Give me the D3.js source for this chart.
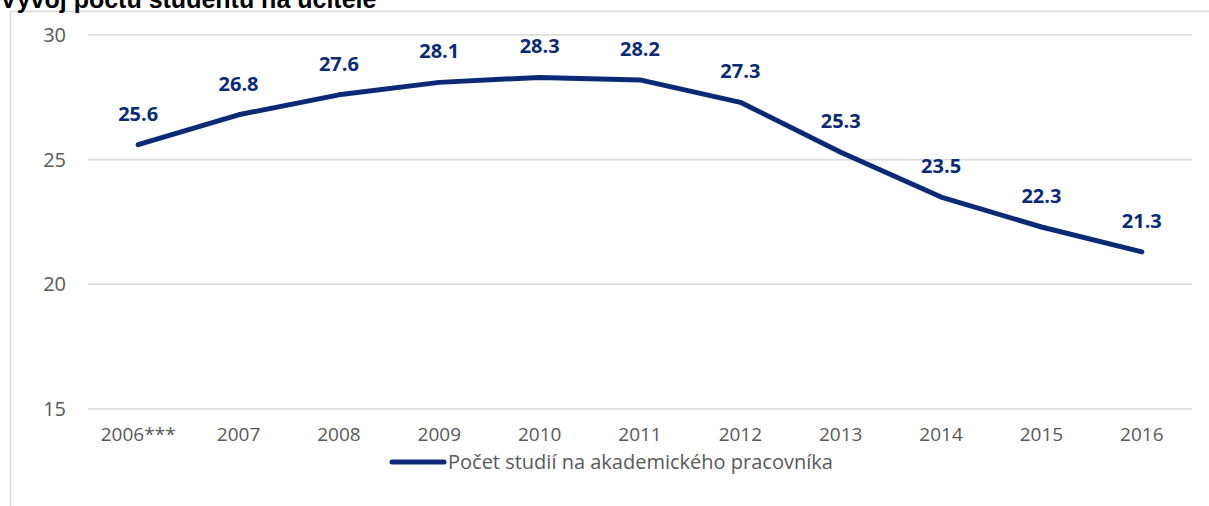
<!DOCTYPE html>
<html>
<head>
<meta charset="utf-8">
<script src="https://cdn.jsdelivr.net/npm/d3@7"></script>
<style>
  body { margin: 0; background: #fff; }
</style>
</head>
<body>
<script>
var years = ["2006***", "2007", "2008", "2009", "2010", "2011", "2012", "2013", "2014", "2015", "2016"];
var values = [25.6, 26.8, 27.6, 28.1, 28.3, 28.2, 27.3, 25.3, 23.5, 22.3, 21.3];
var yTicks = [15, 20, 25, 30];
var seriesName = "Počet studií na akademického pracovníka";
var title = "Vývoj počtu studentů na učitele";

var width = 1209, height = 506;
var blue = "#0a2a78";
var font = "'Open Sans', 'Noto Sans', sans-serif";

var svg = d3.select("body").append("svg")
    .attr("width", width)
    .attr("height", height);

// chart frame
svg.append("path")
    .attr("d", "M10.5,506 L10.5,11.5 L1209,11.5")
    .attr("fill", "none")
    .attr("stroke", "#d9d9d9")
    .attr("stroke-width", 1.5);

svg.append("text")
    .attr("x", 0)
    .attr("y", 8)
    .style("font-family", "'Liberation Sans', Arial, sans-serif")
    .style("font-weight", "bold")
    .style("font-size", "25px")
    .attr("fill", "#000")
    .text(title);

var x = d3.scaleBand()
    .domain(years)
    .range([88, 1192]);

var y = d3.scaleLinear()
    .domain([15, 30])
    .range([409, 35]);

// gridlines
svg.append("g")
  .selectAll("line")
  .data(yTicks)
  .enter().append("line")
    .attr("x1", 88)
    .attr("x2", 1192)
    .attr("y1", function(d) { return y(d); })
    .attr("y2", function(d) { return y(d); })
    .attr("stroke", "#d9d9d9")
    .attr("stroke-width", 1.5);

var yAxis = svg.append("g")
    .attr("transform", "translate(74,0)")
    .call(d3.axisLeft(y).tickValues(yTicks).tickSize(0).tickPadding(8));
yAxis.select(".domain").remove();
yAxis.selectAll("text")
    .style("font-family", font)
    .style("font-size", "20px")
    .attr("fill", "#595959");

var xAxis = svg.append("g")
    .attr("transform", "translate(0,425)")
    .call(d3.axisBottom(x).tickSize(0).tickPadding(2));
xAxis.select(".domain").remove();
xAxis.selectAll("text")
    .style("font-family", font)
    .style("font-size", "19px")
    .attr("fill", "#595959");

var line = d3.line()
    .x(function(d, i) { return x(years[i]) + x.bandwidth() / 2; })
    .y(function(d) { return y(d); });

svg.append("path")
    .datum(values)
    .attr("d", line)
    .attr("fill", "none")
    .attr("stroke", blue)
    .attr("stroke-width", 5)
    .attr("stroke-linecap", "round")
    .attr("stroke-linejoin", "round");

svg.append("g")
  .selectAll("text")
  .data(values)
  .enter().append("text")
    .attr("x", function(d, i) { return x(years[i]) + x.bandwidth() / 2; })
    .attr("y", function(d) { return y(d) - 24; })
    .attr("text-anchor", "middle")
    .style("font-family", font)
    .style("font-weight", "bold")
    .style("font-size", "20px")
    .attr("fill", blue)
    .text(function(d) { return d.toFixed(1); });

// legend
var legend = svg.append("g").attr("transform", "translate(390,462)");
legend.append("line")
    .attr("x1", 2).attr("x2", 54)
    .attr("y1", 0).attr("y2", 0)
    .attr("stroke", blue)
    .attr("stroke-width", 5)
    .attr("stroke-linecap", "round");
legend.append("text")
    .attr("x", 58)
    .attr("y", 7)
    .style("font-family", font)
    .style("font-size", "20px")
    .attr("fill", "#595959")
    .text(seriesName);
</script>
</body>
</html>
